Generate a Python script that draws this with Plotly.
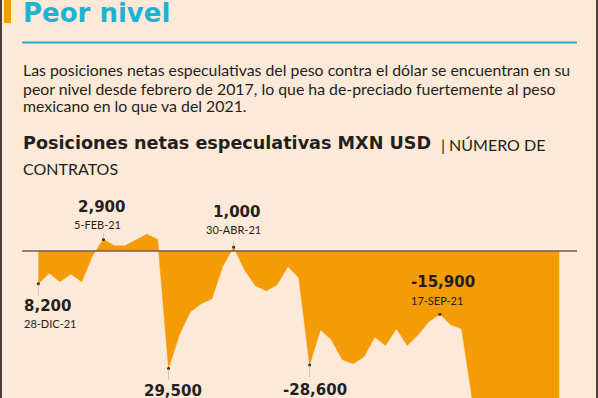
import plotly.graph_objects as go

# ---- data ----
net_positions = [
    -8200, -5600, -7700, -5800, -7700, -1100, 2900, 1300, 1300, 2800,
    4200, 2900, -29500, -21000, -15300, -13250, -12000, -3800, 1000, -4750,
    -8700, -10000, -8500, -3900, -6700, -28600, -19750, -22250, -27250, -28300,
    -26600, -21600, -23700, -19500, -23700, -21000, -17700, -15900, -18500, -19500,
    -37500, -40500, -43000, -41800, -44500, -46200, -45000, -47300, -48900,
]
weeks = list(range(len(net_positions)))

# highlighted points: (index, value label, date label)
hl_index = [0, 6, 18, 12, 25, 37]
hl_value_text = ["8,200", "2,900", "1,000", "29,500", "-28,600", "-15,900"]
hl_date_text = ["28-DIC-21", "5-FEB-21", "30-ABR-21", "", "", "17-SEP-21"]

title_text = "Peor nivel"
body_lines = [
    "Las posiciones netas especulativas del peso contra el dólar se encuentran en su",
    "peor nivel desde febrero de 2017, lo que ha de-preciado fuertemente al peso",
    "mexicano en lo que va del 2021.",
]
subtitle_bold = "Posiciones netas especulativas MXN USD"
subtitle_rest = "| NÚMERO DE"
subtitle_line2 = "CONTRATOS"

# ---- style ----
W, H = 598, 398
BG = "#fde9d8"
ORANGE = "#f59b05"
CYAN = "#1bb3d3"
DARK = "#231f20"
FONT = "Lato"
BOLDFONT = "DejaVu Sans"

# pixel geometry of the chart
x0_px, step_px = 38.3, 10.853
zero_px, units_per_px = 251, 251
xr = [(0 - x0_px) / step_px, (W - x0_px) / step_px]
yr = [-(H - zero_px) * units_per_px, zero_px * units_per_px]

def px(x):
    return x / W

def py(y):
    return 1 - y / H

fig = go.Figure()
fig.add_trace(go.Scatter(
    x=weeks, y=net_positions, mode="lines", fill="tozeroy",
    line=dict(color=ORANGE, width=0.5), fillcolor=ORANGE, hoverinfo="skip",
))
fig.add_trace(go.Scatter(
    x=[weeks[i] for i in hl_index], y=[net_positions[i] for i in hl_index],
    mode="markers", marker=dict(color=DARK, size=3), hoverinfo="skip",
))

annotations = []
shapes = []

# header
shapes.append(dict(type="rect", xref="paper", yref="paper", x0=px(4), x1=px(11),
                   y0=py(23), y1=py(0), fillcolor=ORANGE, line_width=0))
shapes.append(dict(type="rect", xref="paper", yref="paper", x0=0, x1=px(2),
                   y0=0, y1=1, fillcolor="#4a3f3a", line_width=0))
shapes.append(dict(type="rect", xref="paper", yref="paper", x0=px(596), x1=1,
                   y0=0, y1=1, fillcolor="#4a3f3a", line_width=0))
shapes.append(dict(type="line", xref="paper", yref="paper", x0=px(22), x1=px(577),
                   y0=py(42.5), y1=py(42.5), line=dict(color=CYAN, width=2)))
# zero line
shapes.append(dict(type="line", xref="paper", yref="y", x0=px(22), x1=px(577),
                   y0=0, y1=0, line=dict(color="#6e5d52", width=1.5), layer="above"))

annotations.append(dict(text="<b>" + title_text + "</b>", xref="paper", yref="paper",
                        x=px(21), y=py(13), xanchor="left", yanchor="middle",
                        showarrow=False, font=dict(family=BOLDFONT, size=26, color=CYAN)))
for i, (line, base) in enumerate(zip(body_lines, [69, 88, 106])):
    annotations.append(dict(text=line, xref="paper", yref="paper", x=px(21), y=py(base),
                            xanchor="left", yanchor="middle", showarrow=False,
                            font=dict(family=FONT, size=15.85, color=DARK)))
annotations.append(dict(text="<b>" + subtitle_bold + "</b>",
                        xref="paper", yref="paper", x=px(21), y=py(143),
                        xanchor="left", yanchor="middle", showarrow=False,
                        font=dict(family=BOLDFONT, size=17.6, color=DARK)))
annotations.append(dict(text=subtitle_rest,
                        xref="paper", yref="paper", x=px(439), y=py(144),
                        xanchor="left", yanchor="middle", showarrow=False,
                        font=dict(family=FONT, size=16, color=DARK)))
annotations.append(dict(text=subtitle_line2, xref="paper", yref="paper", x=px(21), y=py(168),
                        xanchor="left", yanchor="middle", showarrow=False,
                        font=dict(family=FONT, size=16, color=DARK)))

# label layout offsets (pixels relative to point): value (dx, dy), date (dx, dy), leader (len)
label_layout = {
    0: ((-16.3, -22.7, "left"), (-16.3, -39.7, "left"), 14),
    6: ((-2, 32, "center"), (-6, 15, "center"), -8),
    18: ((2.5, 34.7, "center"), (-0.5, 17.7, "center"), -8),
    12: ((4, -22.7, "center"), (0, -40, "center"), 13),
    25: ((5, -25, "center"), (0, -42, "center"), 14),
    37: ((3, 32, "center"), (-3, 14, "center"), -8),
}
for idx, vt, dt in zip(hl_index, hl_value_text, hl_date_text):
    (vdx, vdy, va), (ddx, ddy, da), lead = label_layout[idx]
    yv = net_positions[idx]
    annotations.append(dict(text="<b>" + vt + "</b>", x=idx, y=yv, xref="x", yref="y",
                            xshift=vdx, yshift=vdy, xanchor=va, yanchor="middle",
                            showarrow=False, font=dict(family=BOLDFONT, size=15, color=DARK)))
    if dt:
        annotations.append(dict(text=dt, x=idx, y=yv, xref="x", yref="y",
                                xshift=ddx, yshift=ddy, xanchor=da, yanchor="middle",
                                showarrow=False, font=dict(family=FONT, size=11, color=DARK)))
    annotations.append(dict(text="", x=idx, y=yv, xref="x", yref="y", showarrow=True,
                            ax=0, ay=lead, arrowhead=0, arrowwidth=0.6,
                            arrowcolor="#b8aba0", standoff=0, startstandoff=0))

fig.update_layout(
    width=W, height=H, margin=dict(l=0, r=0, t=0, b=0),
    paper_bgcolor=BG, plot_bgcolor=BG, showlegend=False,
    xaxis=dict(range=xr, visible=False, fixedrange=True),
    yaxis=dict(range=yr, visible=False, fixedrange=True),
    shapes=shapes, annotations=annotations,
)
fig.write_html("out.html", config={"displayModeBar": False},
               post_script="document.body.style.margin='0';document.body.style.padding='0';document.body.style.overflow='hidden';")
